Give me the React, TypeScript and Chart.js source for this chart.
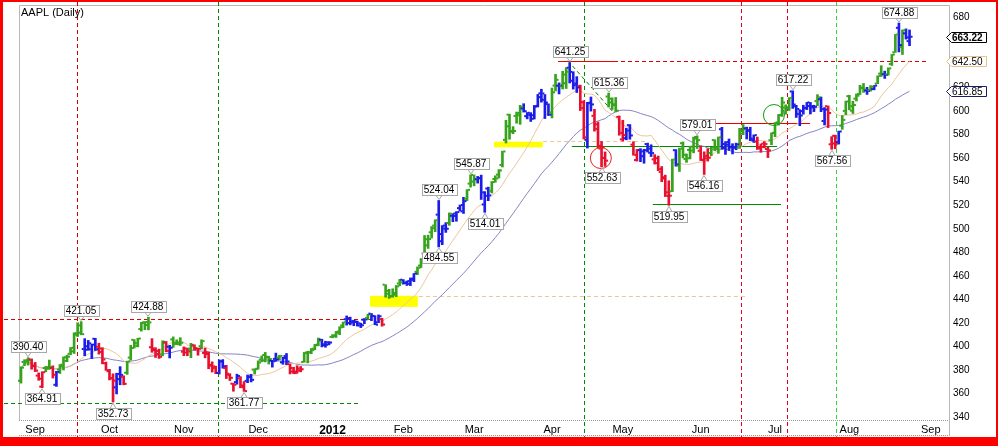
import React, { useEffect, useRef } from "react";
import { Chart, registerables } from "chart.js";
Chart.register(...registerables);

// ---- Daily OHLC (AAPL, Aug 26 2011 .. Aug 24 2012, dividend adjusted) ----
const opens = [
  370.8,386.8,387.0,389.0,383.6,375.2,365.8,381.6,381.0,381.7,
  367.4,380.3,384.5,390.7,393.7,395.8,411.3,417.9,397.8,397.2,
  397.6,406.5,399.7,398.3,385.7,378.9,372.9,365.2,372.2,374.1,
  377.6,390.5,405.6,402.8,414.7,420.3,420.7,399.3,398.3,396.2,
  393.2,403.2,399.7,405.9,401.9,401.8,395.5,398.3,398.0,400.8,
  398.1,400.2,394.4,395.0,384.3,381.6,377.4,387.4,381.6,376.8,
  368.3,369.7,372.9,366.8,370.7,374.0,380.3,381.0,388.6,392.7,
  390.6,387.8,389.4,390.5,386.5,391.8,385.0,381.6,378.6,381.2,
  386.8,394.8,395.1,398.1,401.0,405.8,401.8,401.4,408.1,408.6,
  412.6,417.8,423.1,424.0,420.3,421.3,417.8,422.7,424.2,427.9,
  425.9,420.5,423.1,452.5,447.3,442.6,443.9,453.5,456.7,454.0,
  455.5,456.6,463.4,468.7,478.9,485.9,497.0,502.7,512.0,489.4,
  502.7,504.9,511.0,513.0,517.5,514.8,525.5,538.4,545.8,542.1,
  543.1,520.6,534.2,532.2,542.3,546.0,554.2,575.6,597.0,582.5,
  595.9,596.5,602.2,595.7,598.6,596.5,603.8,615.1,609.6,606.0,
  598.8,621.7,621.6,621.2,623.7,636.9,633.4,622.1,621.3,607.6,
  575.6,606.7,596.0,588.8,568.2,560.2,612.4,610.6,605.9,595.1,
  576.0,576.9,588.1,571.5,558.4,566.8,561.7,572.0,564.6,559.0,
  560.0,548.3,542.8,531.0,531.8,566.8,553.7,572.7,559.3,567.0,
  566.5,578.0,566.3,558.6,559.9,564.4,575.4,568.3,584.6,572.0,
  571.5,569.2,569.0,568.7,580.9,585.4,583.8,576.6,574.1,569.4,
  572.4,567.8,575.2,581.5,590.3,596.5,603.0,602.3,616.7,604.1,
  597.6,600.0,602.7,607.4,603.1,608.5,610.1,591.6,604.2,571.8,
  579.0,573.8,587.6,600.2,612.7,600.4,610.6,614.5,619.5,617.5,
  617.9,618.7,623.4,631.9,631.3,631.2,640.0,650.0,670.8,654.4,
  666.1,659.5,
];
const highs = [
  382.7,388.7,390.4,389.4,386.4,377.5,378.5,383.0,388.4,383.5,
  378.8,384.6,391.1,392.5,399.1,411.5,420.1,421.05,406.6,405.1,
  402.0,406.9,402.7,398.9,386.7,380.5,376.7,377.2,382.8,375.0,
  387.5,401.0,405.8,407.0,420.5,421.1,424.88,406.6,398.9,397.7,
  404.8,404.2,400.9,408.1,405.6,407.4,399.6,398.6,402.6,401.4,
  398.4,405.6,398.6,395.3,386.9,383.2,388.6,388.8,383.9,376.8,
  368.7,376.4,374.3,370.1,375.7,376.3,381.0,387.7,391.9,394.9,
  391.6,388.2,394.3,392.5,390.7,394.0,385.1,382.3,383.6,382.9,
  394.9,395.9,398.2,401.7,407.1,406.1,404.4,404.1,410.0,412.7,
  416.7,420.7,425.9,424.9,422.3,421.5,419.7,423.7,427.4,428.0,
  426.1,426.8,423.9,452.5,448.5,449.0,451.8,457.0,456.8,455.6,
  458.2,462.0,467.6,474.7,494.3,494.6,501.9,507.6,524.04,502.7,
  505.2,513.5,512.8,514.6,520.2,526.7,533.3,545.87,545.8,544.5,
  545.6,531.6,535.4,540.2,545.0,550.3,566.0,592.2,597.4,586.8,
  599.2,604.9,606.3,598.8,598.7,604.8,614.2,618.6,614.1,606.2,
  619.6,631.3,624.0,633.9,637.0,641.25,633.5,629.3,622.1,608.9,
  607.5,612.0,601.5,590.8,574.2,565.3,615.36,611.3,611.6,595.9,
  592.2,585.5,588.6,574.0,567.4,568.1,567.6,572.8,571.4,563.0,
  561.8,552.9,545.6,540.8,559.2,567.3,568.6,573.8,563.6,570.2,
  577.9,579.01,570.4,565.4,568.1,569.4,575.7,578.0,586.2,574.1,
  576.3,572.3,572.8,585.4,588.6,586.4,586.3,579.8,578.0,572.1,
  574.1,569.2,581.5,590.3,597.2,611.8,605.4,611.5,617.22,604.9,
  601.2,605.0,607.4,607.4,605.0,614.0,612.0,603.0,604.4,578.3,
  579.6,583.0,596.2,608.5,613.5,608.4,614.6,621.9,623.5,620.2,
  621.7,621.8,630.0,638.6,634.0,636.8,648.2,665.2,674.88,669.0,
  669.9,669.0,
];
const lows = [
  368.8,383.7,384.1,380.6,378.6,371.2,364.91,378.5,380.5,373.1,
  366.0,377.0,379.9,387.0,392.9,394.0,408.4,409.9,392.1,396.7,
  389.7,396.5,393.4,385.2,379.6,371.5,352.73,359.6,367.4,367.4,
  376.2,388.4,398.6,399.6,413.0,414.2,414.1,395.0,390.6,389.8,
  392.0,395.4,390.2,399.2,401.4,400.8,392.1,392.1,390.4,396.9,
  392.5,397.8,390.3,381.0,378.2,376.8,376.5,381.5,372.7,371.0,
  361.9,367.9,364.8,361.77,369.2,369.8,376.5,380.7,387.0,386.8,
  385.0,382.4,387.5,388.4,384.8,384.5,376.6,376.8,377.2,378.4,
  386.6,386.0,393.8,397.2,400.5,399.6,399.3,401.3,407.3,407.6,
  410.0,416.0,418.1,418.3,417.6,417.3,416.0,419.3,422.8,421.9,
  418.4,420.2,417.2,441.8,440.8,441.8,442.3,451.6,452.9,451.8,
  451.7,455.0,461.0,467.0,475.8,483.3,492.2,497.5,484.55,486.5,
  496.9,502.9,506.0,506.4,515.2,513.0,524.0,535.4,536.5,538.8,
  524.9,514.01,523.9,530.4,539.6,543.2,552.5,572.9,576.1,580.8,
  589.7,588.8,599.2,593.4,591.2,593.3,603.5,607.6,593.7,596.2,
  594.2,617.1,614.6,618.8,619.2,623.9,618.7,615.8,600.5,576.3,
  568.6,600.0,583.0,568.7,552.63,553.0,603.4,601.4,599.3,579.5,
  574.5,575.6,576.1,562.5,557.5,557.0,555.7,565.2,561.4,555.0,
  549.4,540.0,527.4,519.95,531.5,553.2,548.7,560.2,556.4,559.4,
  564.5,568.2,558.0,546.16,557.5,562.1,566.4,564.1,567.6,563.2,
  566.6,563.6,567.2,568.3,580.0,576.3,574.9,573.4,567.4,565.0,
  568.8,560.5,571.4,578.3,588.1,595.5,597.4,600.6,602.3,594.6,
  587.6,597.4,601.3,597.6,599.6,604.5,599.5,588.2,586.0,567.56,
  568.0,572.0,584.5,597.0,601.1,598.0,608.6,614.1,615.9,614.2,
  617.0,618.1,623.3,629.5,627.8,630.6,638.8,649.9,650.3,648.1,
  661.2,655.6,
];
const closes = [
  382.0,388.3,388.3,383.2,379.4,372.5,378.1,382.3,382.5,375.9,
  378.3,383.0,387.6,391.3,398.8,409.9,411.7,410.4,400.1,402.6,
  401.5,397.6,395.3,388.9,379.7,373.0,370.9,376.6,375.8,368.2,
  387.2,398.6,400.5,406.7,420.2,418.2,420.4,396.9,393.6,391.2,
  404.0,396.1,398.9,403.0,403.2,403.1,394.8,395.7,401.3,398.5,
  398.0,404.5,393.6,383.6,383.0,377.6,387.2,383.1,375.8,373.3,
  367.4,374.9,365.4,362.0,374.5,371.6,380.6,386.3,388.0,391.3,
  389.3,387.4,389.0,391.9,390.2,387.2,378.6,377.3,379.4,380.6,
  394.3,394.8,396.8,401.6,404.8,400.9,403.4,403.3,409.5,411.7,
  416.2,420.6,419.9,421.4,420.8,419.6,418.0,422.9,427.3,425.9,
  418.5,425.6,418.6,444.8,442.7,445.4,451.1,454.5,454.2,453.2,
  457.7,462.0,466.8,474.6,491.1,491.3,500.5,507.3,495.5,500.1,
  500.0,512.7,510.9,514.2,520.2,523.5,533.1,540.1,542.1,542.9,
  530.9,528.0,528.4,539.7,542.8,549.6,565.7,587.1,583.1,583.1,
  598.5,603.4,599.9,596.8,593.5,604.4,611.9,615.0,607.3,597.0,
  616.0,626.6,621.6,631.0,633.5,625.8,623.5,620.1,602.6,577.7,
  607.1,605.7,584.9,570.5,569.3,557.9,607.4,605.1,600.4,581.5,
  579.6,583.5,579.3,562.8,567.1,565.8,566.8,568.1,564.3,555.8,
  550.8,543.8,527.9,528.1,558.9,554.6,568.1,562.9,559.9,569.8,
  576.7,575.3,558.6,561.9,560.4,569.0,569.3,577.8,568.7,573.7,
  569.7,569.1,571.7,583.3,584.9,583.2,575.2,579.6,568.3,569.6,
  572.0,566.6,581.5,590.0,596.8,607.3,603.3,611.3,605.6,601.8,
  596.3,602.4,604.3,604.3,603.7,611.7,601.7,601.3,598.4,572.5,
  572.4,582.7,592.5,608.2,604.2,605.2,613.1,619.9,618.3,617.2,
  620.7,621.7,630.0,631.7,630.8,636.3,648.1,665.2,656.1,668.9,
  662.6,663.22,
];

// Month labels (bar index of first trading day of each month)
const monthTickIdx = [4, 25, 46, 67, 88, 108, 128, 150, 170, 192, 213, 234, 257];
const monthLabels = ["Sep", "Oct", "Nov", "Dec", "2012", "Feb", "Mar", "Apr", "May", "Jun", "Jul", "Aug", "Sep"];
const yTickValues = [340, 360, 380, 400, 420, 440, 460, 480, 500, 520, 540, 560, 580, 600, 620, 640, 660, 680];

// High / low call-outs: bar index, value, above(true)/below(false)
const calloutIdx = [2, 6, 17, 26, 36, 63, 118, 118, 127, 131, 155, 166, 164, 191, 193, 183, 218, 229, 248];
const calloutVal = [390.40, 364.91, 421.05, 352.73, 424.88, 361.77, 524.04, 484.55, 545.87, 514.01, 641.25, 615.36, 552.63, 579.01, 546.16, 519.95, 617.22, 567.56, 674.88];
const calloutUp = [true, false, true, false, true, false, true, false, true, false, true, true, false, true, false, false, true, false, true];

// Right axis value tags: last close, short MA, long MA
const tagValues = [663.22, 642.50, 616.85];

// Moving-average periods
const SHORT_MA = 13;
const LONG_MA = 34;

// Drawn annotations (in data coordinates: bar index / price)
const vLineIdx = [15.8, 55.6, 159.1, 203.4, 216.3, 230.1];
const vLineColor = ["#d00000", "#008a00", "#008a00", "#e0002a", "#d8001a", "#30d830"];
const hLines = [
  { i0: -4.8, i1: 99, v: 423.0, c: "#e00000", dash: true },
  { i0: -4.8, i1: 96, v: 352.3, c: "#008a00", dash: true },
  { i0: 112.4, i1: 204.5, v: 442.7, c: "#f2c494", dash: true },
  { i0: 147.5, i1: 176.3, v: 574.8, c: "#f2c494", dash: true },
  { i0: 151.7, i1: 256.5, v: 642.6, c: "#e00000", dash: true },
  { i0: 151.7, i1: 167.5, v: 642.6, c: "#ee0000", dash: false },
  { i0: 194.0, i1: 222.9, v: 590.1, c: "#ee0000", dash: false },
  { i0: 155.6, i1: 213.6, v: 570.3, c: "#008a00", dash: false },
  { i0: 178.5, i1: 214.7, v: 520.7, c: "#008a00", dash: false },
];
const diagLine = { i0: 154.5, v0: 642.8, i1: 167.2, v1: 599.5, c: "#008000" };
const yellowBoxes = [
  { i0: 98.6, i1: 112.1, v0: 433.6, v1: 443.0 },
  { i0: 133.6, i1: 147.4, v0: 569.2, v1: 574.0 },
];
const circles = [
  { i: 163.8, v: 560.1, c: "#ee2020" },
  { i: 212.7, v: 596.7, c: "#10a010" },
];

const GREEN = "#36a31c";
const BLUE = "#1c1ce8";
const RED = "#e8102e";
const TAN = "#ecc79e";
const SLATE = "#8585c4";

function sma(arr: number[], n: number) {
  return arr.map((_, i) => {
    const s = Math.max(0, i - n + 1);
    let t = 0;
    for (let k = s; k <= i; k++) t += arr[k];
    return t / (i - s + 1);
  });
}
function ema(arr: number[], n: number) {
  const k = 2 / (n + 1);
  const out: number[] = [];
  arr.forEach((v, i) => out.push(i === 0 ? v : v * k + out[i - 1] * (1 - k)));
  return out;
}

export default function App() {
  const ref = useRef<HTMLCanvasElement>(null);
  useEffect(() => {
    const canvas = ref.current!;
    const idx = closes.map((_, i) => i);
    const shortMa = sma(closes, SHORT_MA);
    const longMa = sma(closes, LONG_MA);
    const e13 = ema(closes, 13);
    const e12 = ema(closes, 12);
    const e26 = ema(closes, 26);
    const macd = e12.map((v, i) => v - e26[i]);
    const sig = ema(macd, 9);
    const hist = macd.map((v, i) => v - sig[i]);
    const colors = idx.map((i) => {
      if (i === 0) return GREEN;
      const up = e13[i] > e13[i - 1] && hist[i] > hist[i - 1];
      const dn = e13[i] < e13[i - 1] && hist[i] < hist[i - 1];
      return up ? GREEN : dn ? RED : BLUE;
    });

    const FONT = "'Liberation Sans', Arial, sans-serif";

    const decor = {
      id: "decor",
      beforeDraw(chart: any) {
        const c = chart.ctx;
        c.save();
        c.fillStyle = "#ff0000";
        c.fillRect(0, 0, 998, 446);
        c.fillStyle = "#ffffff";
        c.fillRect(3, 2, 993, 435);
        c.restore();
      },
      beforeDatasetsDraw(chart: any) {
        const c = chart.ctx;
        const xs = chart.scales.x, ys = chart.scales.y;
        const a = chart.chartArea;
        const X = (i: number) => xs.getPixelForValue(i);
        const Y = (v: number) => ys.getPixelForValue(v);
        c.save();
        // plot frame
        c.strokeStyle = "#b8b8b8";
        c.lineWidth = 1;
        c.beginPath();
        c.moveTo(a.left + 0.5, a.bottom);
        c.lineTo(a.left + 0.5, a.top + 0.5);
        c.lineTo(a.right + 0.5, a.top + 0.5);
        c.lineTo(a.right + 0.5, 436);
        c.stroke();
        c.setLineDash([1, 1]);
        c.strokeStyle = "#9a9a9a";
        c.beginPath();
        c.moveTo(a.left, a.bottom + 0.5);
        c.lineTo(a.right, a.bottom + 0.5);
        c.moveTo(a.left, 435.5);
        c.lineTo(a.right, 435.5);
        c.stroke();
        c.setLineDash([]);
        // yellow boxes
        c.fillStyle = "#ffff00";
        yellowBoxes.forEach((b) => {
          c.fillRect(X(b.i0), Y(b.v1), X(b.i1) - X(b.i0), Y(b.v0) - Y(b.v1));
        });
        // vertical dashed
        vLineIdx.forEach((i, k) => {
          const x = Math.round(X(i)) + 0.5;
          c.strokeStyle = vLineColor[k];
          c.setLineDash([4, 3]);
          c.beginPath();
          c.moveTo(x, 2);
          c.lineTo(x, 437);
          c.stroke();
        });
        // horizontal lines
        hLines.forEach((h) => {
          const y = Math.round(Y(h.v)) + 0.5;
          c.strokeStyle = h.c;
          c.setLineDash(h.dash ? [4, 3] : []);
          c.beginPath();
          c.moveTo(X(h.i0), y);
          c.lineTo(X(h.i1), y);
          c.stroke();
        });
        // diagonal
        c.strokeStyle = diagLine.c;
        c.setLineDash([4, 3]);
        c.beginPath();
        c.moveTo(X(diagLine.i0), Y(diagLine.v0));
        c.lineTo(X(diagLine.i1), Y(diagLine.v1));
        c.stroke();
        c.restore();
      },
      afterDatasetsDraw(chart: any) {
        const c = chart.ctx;
        const xs = chart.scales.x, ys = chart.scales.y;
        const X = (i: number) => xs.getPixelForValue(i);
        const Y = (v: number) => ys.getPixelForValue(v);
        const meta = chart.getDatasetMeta(0);
        c.save();
        // open / close ticks
        idx.forEach((i) => {
          const el = meta.data[i];
          const x = el ? el.x : X(i);
          c.fillStyle = colors[i];
          c.fillRect(x - 3, Y(opens[i]) - 1, 2, 2);
          c.fillRect(x + 1, Y(closes[i]) - 1, 2, 2);
        });
        // circles
        circles.forEach((o) => {
          c.strokeStyle = o.c;
          c.lineWidth = 1;
          c.beginPath();
          c.arc(X(o.i), Y(o.v), 10.5, 0, Math.PI * 2);
          c.stroke();
        });
        // call-outs
        c.font = `10px ${FONT}`;
        c.textAlign = "center";
        c.textBaseline = "middle";
        calloutIdx.forEach((i, k) => {
          const v = calloutVal[k];
          const up = calloutUp[k];
          const x = Math.round(X(i));
          const yv = Y(v);
          const txt = v.toFixed(2);
          const w = Math.ceil(c.measureText(txt).width) + 4;
          const h = 11;
          const cy = up ? yv - 11 : yv + 11;
          const top = Math.round(cy - h / 2) + 0.5;
          const left = Math.round(x - w / 2) + 0.5;
          c.strokeStyle = "#a8a8a8";
          c.lineWidth = 1;
          c.beginPath();
          const edge = up ? top + h : top;
          const tip = up ? yv - 1 : yv + 1;
          c.moveTo(x - 3, edge);
          c.lineTo(x, tip);
          c.lineTo(x + 3, edge);
          c.stroke();
          c.fillStyle = "#ffffff";
          c.fillRect(left, top, w, h);
          c.strokeRect(left, top, w, h);
          c.fillStyle = "#000000";
          c.fillText(txt, x, top + h / 2 + 0.5);
        });
        // title
        c.textAlign = "left";
        c.font = `11px ${FONT}`;
        c.fillStyle = "#000";
        c.fillText("AAPL (Daily)", 21, 13);
        c.restore();
      },
      afterDraw(chart: any) {
        const c = chart.ctx;
        const ys = chart.scales.y;
        const a = chart.chartArea;
        const styles = [
          { border: "#000000", bold: true },
          { border: "#e9bf8a", bold: false },
          { border: "#1a1a70", bold: false },
        ];
        c.save();
        tagValues.forEach((v, k) => {
          const y = Math.round(ys.getPixelForValue(v)) + 0.5;
          const s = styles[k];
          const x0 = a.right - 2.5;
          c.beginPath();
          c.moveTo(x0, y);
          c.lineTo(x0 + 5, y - 5);
          c.lineTo(986.5, y - 5);
          c.lineTo(986.5, y + 5);
          c.lineTo(x0 + 5, y + 5);
          c.closePath();
          c.fillStyle = "#ffffff";
          c.fill();
          c.strokeStyle = s.border;
          c.lineWidth = 1;
          c.stroke();
          c.fillStyle = "#000";
          c.font = `${s.bold ? "bold " : ""}10px ${FONT}`;
          c.textAlign = "left";
          c.textBaseline = "middle";
          c.fillText(v.toFixed(2), x0 + 5.5, y + 0.5);
        });
        c.restore();
      },
    };

    const chart = new Chart(canvas, {
      type: "bar",
      data: {
        datasets: [
          {
            type: "bar",
            data: idx.map((i) => ({ x: i, y: [lows[i], highs[i]] })) as any,
            backgroundColor: colors,
            borderWidth: 0,
            barThickness: 2,
            grouped: false,
            order: 1,
          } as any,
          {
            type: "line",
            data: idx.map((i) => ({ x: i, y: shortMa[i] })),
            borderColor: TAN,
            borderWidth: 1,
            pointRadius: 0,
            tension: 0,
            order: 2,
          } as any,
          {
            type: "line",
            data: idx.map((i) => ({ x: i, y: longMa[i] })),
            borderColor: SLATE,
            borderWidth: 1,
            pointRadius: 0,
            tension: 0,
            order: 3,
          } as any,
        ],
      },
      options: {
        responsive: false,
        devicePixelRatio: 1,
        animation: false,
        events: [],
        layout: { padding: { left: 19, top: 5, right: 2, bottom: 9 } },
        plugins: { legend: { display: false }, tooltip: { enabled: false }, title: { display: false } },
        scales: {
          x: {
            type: "linear",
            min: -0.565,
            max: 262.15,
            offset: false,
            grid: { display: false, drawTicks: false },
            border: { display: false },
            afterBuildTicks: (s: any) => {
              s.ticks = monthTickIdx.map((v) => ({ value: v }));
            },
            afterFit: (s: any) => {
              s.height = 17;
              s.paddingLeft = 0;
              s.paddingRight = 0;
            },
            ticks: {
              autoSkip: false,
              maxRotation: 0,
              minRotation: 0,
              padding: 3,
              color: "#000",
              font: (ctx: any) =>
                monthLabels[ctx.index] === "2012"
                  ? { size: 12, weight: "bold", family: FONT }
                  : { size: 11, family: FONT },
              callback: (v: any) => {
                const k = monthTickIdx.indexOf(Number(v));
                return k >= 0 ? monthLabels[k] : "";
              },
            },
          },
          y: {
            type: "linear",
            position: "right",
            min: 337.45,
            max: 690.2,
            grid: { display: false, drawTicks: false },
            border: { display: false },
            afterBuildTicks: (s: any) => {
              s.ticks = yTickValues.map((v) => ({ value: v }));
            },
            afterFit: (s: any) => {
              s.width = 47;
              s.paddingTop = 0;
              s.paddingBottom = 0;
            },
            ticks: {
              padding: 4,
              color: "#000",
              font: { size: 10, family: FONT },
              callback: (v: any) => String(v),
            },
          },
        },
      } as any,
      plugins: [decor],
    });
    return () => chart.destroy();
  }, []);

  return (
    <div style={{ position: "absolute", left: 0, top: 0, width: 998, height: 446 }}>
      <canvas ref={ref} width={998} height={446} style={{ display: "block", width: 998, height: 446 }} />
    </div>
  );
}
